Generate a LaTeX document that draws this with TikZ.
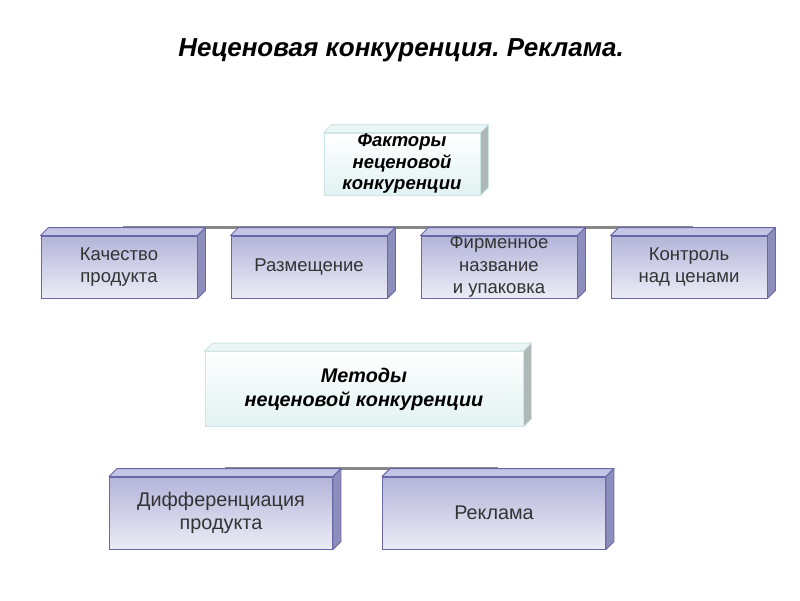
\documentclass[tikz,border=0pt]{standalone}
\usepackage{fontspec}
\setmainfont{Liberation Sans}
\usetikzlibrary{calc}
\frenchspacing
\pgfdeclarelayer{bg}
\pgfsetlayers{bg,main}
\definecolor{boxline}{HTML}{6868A8}
\definecolor{boxtop}{HTML}{B4B4DA}
\definecolor{boxbot}{HTML}{ECECF6}
\definecolor{boxlid}{HTML}{C4C4E4}
\definecolor{boxside}{HTML}{8E8EBC}
\definecolor{hline}{HTML}{CFE6E6}
\definecolor{hbot}{HTML}{E2F2F2}
\definecolor{hlid}{HTML}{EAF6F6}
\definecolor{hside}{HTML}{AEB8B8}
\definecolor{txt}{HTML}{333333}
\definecolor{conn}{HTML}{888888}
\tikzset{
  x=1pt, y=1pt,
  box/.style={rectangle, draw=boxline, line width=0.9pt, top color=boxtop, bottom color=boxbot,
    align=center, text=txt, font=\fontsize{18.5}{22.5}\selectfont, inner sep=0pt},
  hbox/.style={rectangle, draw=hline, line width=0.9pt, top color=white, bottom color=hbot,
    align=center, text=black, font=\fontsize{18.5}{21.5}\selectfont\bfseries\itshape, inner sep=0pt},
  conline/.style={draw=conn, line width=2.4pt},
}
\newcommand\depthfaces[4]{% node, lid colour, side colour, line colour
  \filldraw[fill=#2, draw=#4, line width=0.9pt, line join=round]
    (#1.north west) -- ++(8,8) -- ($(#1.north east)+(8,8)$) -- (#1.north east) -- cycle;
  \filldraw[fill=#3, draw=#4, line width=0.9pt, line join=round]
    (#1.north east) -- ++(8,8) -- ($(#1.south east)+(8,8)$) -- (#1.south east) -- cycle;
}
\begin{document}
\begin{tikzpicture}
\begin{pgfonlayer}{bg}
\fill[white] (0,0) rectangle (800,-600);
\end{pgfonlayer}
\useasboundingbox (0,0) rectangle (800,-600);

\node[font=\fontsize{26}{30}\selectfont\bfseries\itshape] (title) at (401,-50) {Неценовая конкуренция. Реклама.};

\node[hbox, minimum width=156, minimum height=62] (fac) at (402,-164) {Факторы\\неценовой\\конкуренции};
\depthfaces{fac}{hlid}{hside}{hline}

\node[box, minimum width=156, minimum height=62] (k1) at (119,-267) {Качество\\продукта};
\node[box, minimum width=156, minimum height=62] (k2) at (309,-267) {Размещение};
\node[box, minimum width=156, minimum height=62] (k3) at (499,-267) {Фирменное\\название\\и упаковка};
\node[box, minimum width=156, minimum height=62] (k4) at (689,-267) {Контроль\\над ценами};
\foreach \n in {k1,k2,k3,k4} {\depthfaces{\n}{boxlid}{boxside}{boxline}}

\node[hbox, font=\fontsize{19.8}{24}\selectfont\bfseries\itshape, minimum width=318, minimum height=75] (met) at (364,-389) {Методы\\неценовой конкуренции};
\depthfaces{met}{hlid}{hside}{hline}

\node[box, font=\fontsize{19.8}{23.5}\selectfont, minimum width=223, minimum height=72] (m1) at (221,-513) {Дифференциация\\продукта};
\node[box, font=\fontsize{19.8}{23.5}\selectfont, minimum width=223, minimum height=72] (m2) at (494,-513) {Реклама};
\foreach \n in {m1,m2} {\depthfaces{\n}{boxlid}{boxside}{boxline}}

\begin{pgfonlayer}{bg}
  \draw[conline] ($(k1.north)+(4,8)$) -- ($(k4.north)+(4,8)$);
  \draw[conline] ($(m1.north)+(4,8)$) -- ($(m2.north)+(4,8)$);
\end{pgfonlayer}
\end{tikzpicture}
\end{document}
